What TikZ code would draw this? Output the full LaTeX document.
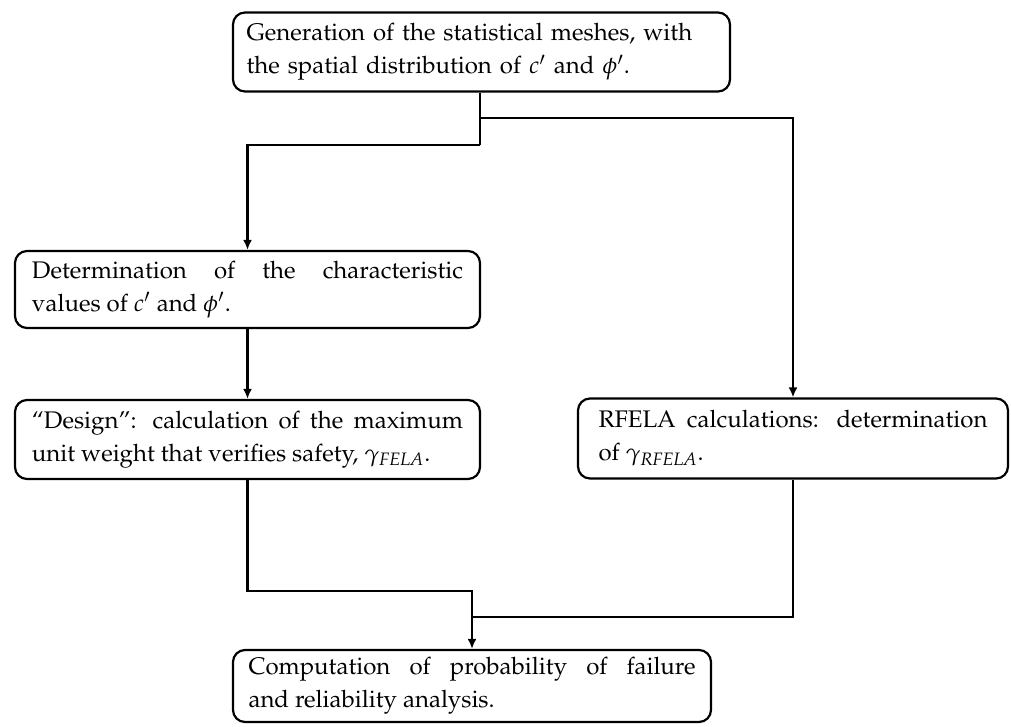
\documentclass[tikz,border=0pt]{standalone}
\usepackage[T1]{fontenc}
\usepackage{mathpazo}
\usetikzlibrary{arrows.meta}
\hyphenpenalty=10000
\begin{document}
\begin{tikzpicture}[x=0.5pt,y=-0.5pt,
  box/.style={draw, line width=1.1pt, rounded corners=6pt, inner xsep=0pt, inner ysep=0pt,
    font=\fontsize{12}{16.5}\selectfont, anchor=center},
  conn/.style={line width=1.1pt},
  arr/.style={conn, -{Latex[length=5pt,width=4.5pt]}}]
\useasboundingbox (0,0) rectangle (1011,727);
\node[box, minimum width=248.5pt, minimum height=39.5pt, text width=235pt, align=left] (top) at (481.5,52)
  {Generation of the statistical meshes, with\\ the spatial distribution of $c'$ and $\phi'$.};
\node[box, minimum width=232.5pt, minimum height=38.5pt, text width=215.5pt, align=justify] (det) at (247.5,289.5)
  {Determination of the characteristic\linebreak values of $c'$ and $\phi'$.};
\node[box, minimum width=232.5pt, minimum height=39.5pt, text width=215.5pt, align=justify] (des) at (247.5,439.5)
  {``Design'': calculation of the maximum\linebreak unit weight that verifies safety, $\gamma_{\mathit{FELA}}$.};
\node[box, minimum width=215pt, minimum height=40pt, text width=194.5pt, align=justify] (rf) at (793,438.5)
  {RFELA calculations: determination\linebreak of $\gamma_{\mathit{RFELA}}$.};
\node[box, minimum width=239pt, minimum height=36pt, text width=223.5pt, align=justify] (comp) at (472,686)
  {Computation of probability of failure\linebreak and reliability analysis.};
\coordinate (s1) at (480,118);
\coordinate (s2) at (480,145);
\coordinate (m1) at (472,591);
\coordinate (m2) at (472,617);
\draw[conn] (top.south -| s1) -- (s2);
\draw[arr] (s2) -| (det.north);
\draw[arr] (s1) -| (rf.north);
\draw[arr] (det.south) -- (des.north);
\draw[arr] (des.south) |- (m1) -- (comp.north);
\draw[conn] (rf.south) |- (m2);
\end{tikzpicture}
\end{document}
